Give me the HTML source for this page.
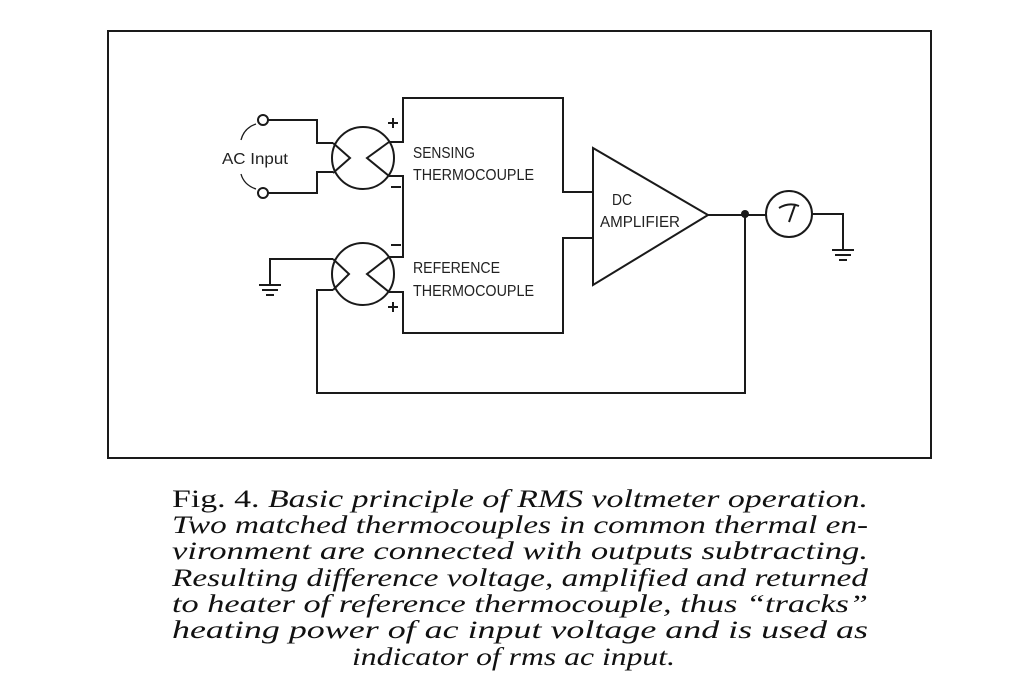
<!DOCTYPE html>
<html><head><meta charset="utf-8"><style>
html,body{margin:0;padding:0;background:#fff;}
svg{display:block;}
.l{font-family:"Liberation Sans",sans-serif;font-size:16px;fill:#222;}
.c{font-family:"Liberation Serif",serif;font-size:25px;font-style:italic;fill:#111;}
</style></head><body>
<svg width="1020" height="680" viewBox="0 0 1020 680" xmlns="http://www.w3.org/2000/svg">
<rect width="1020" height="680" fill="#fff"/>
<g fill="none" stroke="#1a1a1a" stroke-width="2">
<rect x="108" y="31" width="823" height="427"/>
<circle cx="263" cy="120" r="5"/>
<circle cx="263" cy="193" r="5"/>
<polyline points="268,120 317,120 317,143 333,143"/>
<polyline points="268,193 317,193 317,172 333,172"/>
<path d="M256,124 Q244,128 241,140 M256,189 Q244,185 241,174" stroke-width="1.3"/>
<circle cx="363" cy="158" r="31"/>
<polyline points="333,143 350,158 333,173"/>
<polyline points="389,142 367,158 389,176"/>
<polyline points="389,142 403,142 403,98 563,98 563,192 593,192"/>
<polyline points="389,176 403,176 403,257 389,257"/>
<circle cx="363" cy="274" r="31"/>
<polyline points="333,259 349,274 333,290"/>
<polyline points="389,257 367,274 389,292"/>
<polyline points="389,292 403,292 403,333 563,333 563,238 593,238"/>
<polyline points="333,259 270,259 270,285"/>
<polyline points="333,290 317,290 317,393 745,393 745,214"/>
<polygon points="593,148 593,285 708,215"/>
<line x1="708" y1="215" x2="766" y2="215"/>
<circle cx="789" cy="214" r="23"/>
<polyline points="812,214 843,214 843,250"/>
<path d="M779,208 Q789,202 799,206 M795,205 L789,222" stroke-width="2"/>
</g>
<circle cx="745" cy="214" r="4" fill="#1a1a1a"/>
<g stroke="#1a1a1a" stroke-width="2">
<line x1="259" y1="285" x2="281" y2="285"/><line x1="262" y1="290" x2="278" y2="290"/><line x1="266" y1="295" x2="274" y2="295"/>
<line x1="832" y1="250" x2="854" y2="250"/><line x1="835" y1="255" x2="851" y2="255"/><line x1="839" y1="260" x2="847" y2="260"/>
<line x1="388" y1="123" x2="398" y2="123"/><line x1="393" y1="118" x2="393" y2="128"/>
<line x1="391" y1="187" x2="401" y2="187"/>
<line x1="391" y1="245" x2="401" y2="245"/>
<line x1="388" y1="307" x2="398" y2="307"/><line x1="393" y1="302" x2="393" y2="312"/>
</g>
<g class="l">
<text x="222" y="164" textLength="66" lengthAdjust="spacingAndGlyphs">AC Input</text>
<text x="413" y="158" textLength="62" lengthAdjust="spacingAndGlyphs">SENSING</text>
<text x="413" y="180" textLength="121" lengthAdjust="spacingAndGlyphs">THERMOCOUPLE</text>
<text x="413" y="273" textLength="87" lengthAdjust="spacingAndGlyphs">REFERENCE</text>
<text x="413" y="296" textLength="121" lengthAdjust="spacingAndGlyphs">THERMOCOUPLE</text>
<text x="612" y="205" textLength="20" lengthAdjust="spacingAndGlyphs">DC</text>
<text x="600" y="227" textLength="80" lengthAdjust="spacingAndGlyphs">AMPLIFIER</text>
</g>
<g class="c">
<text x="172" y="507" textLength="696" lengthAdjust="spacingAndGlyphs"><tspan font-style="normal">Fig. 4.</tspan> Basic principle of RMS voltmeter operation.</text>
<text x="172" y="533" textLength="696" lengthAdjust="spacingAndGlyphs">Two matched thermocouples in common thermal en-</text>
<text x="172" y="559" textLength="696" lengthAdjust="spacingAndGlyphs">vironment are connected with outputs subtracting.</text>
<text x="172" y="586" textLength="696" lengthAdjust="spacingAndGlyphs">Resulting difference voltage, amplified and returned</text>
<text x="172" y="612" textLength="696" lengthAdjust="spacingAndGlyphs">to heater of reference thermocouple, thus “tracks”</text>
<text x="172" y="638" textLength="696" lengthAdjust="spacingAndGlyphs">heating power of ac input voltage and is used as</text>
<text x="352" y="665" textLength="323" lengthAdjust="spacingAndGlyphs">indicator of rms ac input.</text>
</g>
</svg>
</body></html>
